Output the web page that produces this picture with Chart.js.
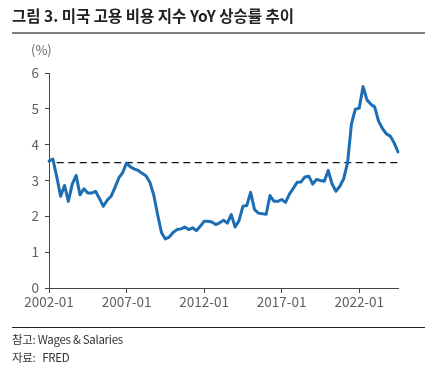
<!DOCTYPE html>
<html><head><meta charset="utf-8">
<script src="https://cdn.jsdelivr.net/npm/chart.js@4"></script>
<style>
html,body{margin:0;padding:0;background:#fff;width:431px;height:372px;overflow:hidden;font-family:"Noto Sans CJK KR","Noto Sans",sans-serif;}
#wrap{position:absolute;left:0;top:0;width:431px;height:372px;}
.t{position:absolute;white-space:nowrap;line-height:1;}
</style></head><body>
<div id="wrap"><canvas id="c" width="431" height="372"></canvas></div>
<div class="t" style="left:12px;top:8px;font-size:15.5px;font-weight:700;color:#222;">그림 3. 미국 고용 비용 지수 YoY 상승률 추이</div>
<div style="position:absolute;left:12px;top:32px;width:413px;height:2px;background:#7f7f7f;"></div>
<div class="t" style="left:31px;top:43px;font-size:13px;color:#666;">(%)</div>
<div style="position:absolute;left:12px;top:327px;width:413px;height:1px;background:#222;"></div>
<div class="t" style="left:12px;top:334px;font-size:11.5px;color:#333;letter-spacing:-0.3px;">참고: Wages &amp; Salaries</div>
<div class="t" style="left:12px;top:352px;font-size:11.5px;color:#333;letter-spacing:-0.3px;">자료:&nbsp;&nbsp; FRED</div>
<script>
const quarters = [
"2002-01","2002-04","2002-07","2002-10","2003-01","2003-04","2003-07","2003-10",
"2004-01","2004-04","2004-07","2004-10","2005-01","2005-04","2005-07","2005-10",
"2006-01","2006-04","2006-07","2006-10","2007-01","2007-04","2007-07","2007-10",
"2008-01","2008-04","2008-07","2008-10","2009-01","2009-04","2009-07","2009-10",
"2010-01","2010-04","2010-07","2010-10","2011-01","2011-04","2011-07","2011-10",
"2012-01","2012-04","2012-07","2012-10","2013-01","2013-04","2013-07","2013-10",
"2014-01","2014-04","2014-07","2014-10","2015-01","2015-04","2015-07","2015-10",
"2016-01","2016-04","2016-07","2016-10","2017-01","2017-04","2017-07","2017-10",
"2018-01","2018-04","2018-07","2018-10","2019-01","2019-04","2019-07","2019-10",
"2020-01","2020-04","2020-07","2020-10","2021-01","2021-04","2021-07","2021-10",
"2022-01","2022-04","2022-07","2022-10","2023-01","2023-04","2023-07","2023-10",
"2024-01","2024-04","2024-07"];
const wageYoY = [
3.54,3.60,3.10,2.56,2.86,2.42,2.90,3.14,
2.60,2.77,2.65,2.65,2.70,2.50,2.28,2.45,
2.56,2.80,3.07,3.22,3.49,3.38,3.32,3.28,
3.20,3.13,2.95,2.60,2.05,1.55,1.37,1.42,
1.55,1.63,1.65,1.70,1.63,1.68,1.60,1.72,
1.86,1.86,1.84,1.77,1.82,1.89,1.81,2.05,
1.70,1.88,2.28,2.30,2.67,2.19,2.09,2.07,
2.06,2.58,2.42,2.42,2.47,2.39,2.62,2.78,
2.95,2.96,3.10,3.12,2.90,3.03,3.00,2.98,
3.28,2.90,2.70,2.84,3.05,3.50,4.58,4.99,
5.02,5.62,5.25,5.13,5.05,4.65,4.45,4.30,
4.24,4.05,3.80];
const referenceLevel = 3.5;
const referenceStart = "2002-07";
const xTickLabels = ["2002-01","2007-01","2012-01","2017-01","2022-01"];
const yTicks = [0,1,2,3,4,5,6];

const refStartIdx = quarters.indexOf(referenceStart);
const refLine = quarters.map((q,i)=> i>=refStartIdx ? referenceLevel : null);

const tickFont = {family:'"Noto Sans CJK KR","Noto Sans",sans-serif', size:13.5};
new Chart(document.getElementById('c'), {
  type:'line',
  data:{
    labels:quarters,
    datasets:[
      {data:wageYoY, borderColor:'#1c6db3', borderWidth:3, pointRadius:0, tension:0, borderJoinStyle:'round', borderCapStyle:'round', order:1},
      {data:refLine, borderColor:'#111', borderWidth:1.3, borderDash:[7,4.5], pointRadius:0, spanGaps:false, order:2}
    ]
  },
  options:{
    responsive:false, animation:false, events:[],
    layout:{padding:{left:19,right:33,top:73,bottom:54}},
    plugins:{legend:{display:false},tooltip:{enabled:false}},
    scales:{
      x:{
        grid:{drawOnChartArea:false, drawTicks:true, tickLength:5, color:'#444'},
        border:{display:true, color:'#444', width:1},
        ticks:{autoSkip:false, maxRotation:0, color:'#5f5f5f', font:tickFont, padding:1,
          callback:function(v){const l=this.getLabelForValue(v);return xTickLabels.includes(l)?l:null;}},
        afterFit:s=>{s.height=30;}
      },
      y:{
        min:0,max:6,
        grid:{drawOnChartArea:false, drawTicks:true, tickLength:4, color:'#444'},
        border:{display:true, color:'#444', width:1},
        afterBuildTicks:s=>{s.ticks=yTicks.map(v=>({value:v}));},
        ticks:{color:'#5f5f5f', font:tickFont, padding:6},
        afterFit:s=>{s.width=30;}
      }
    }
  }
});
</script>
</body></html>
